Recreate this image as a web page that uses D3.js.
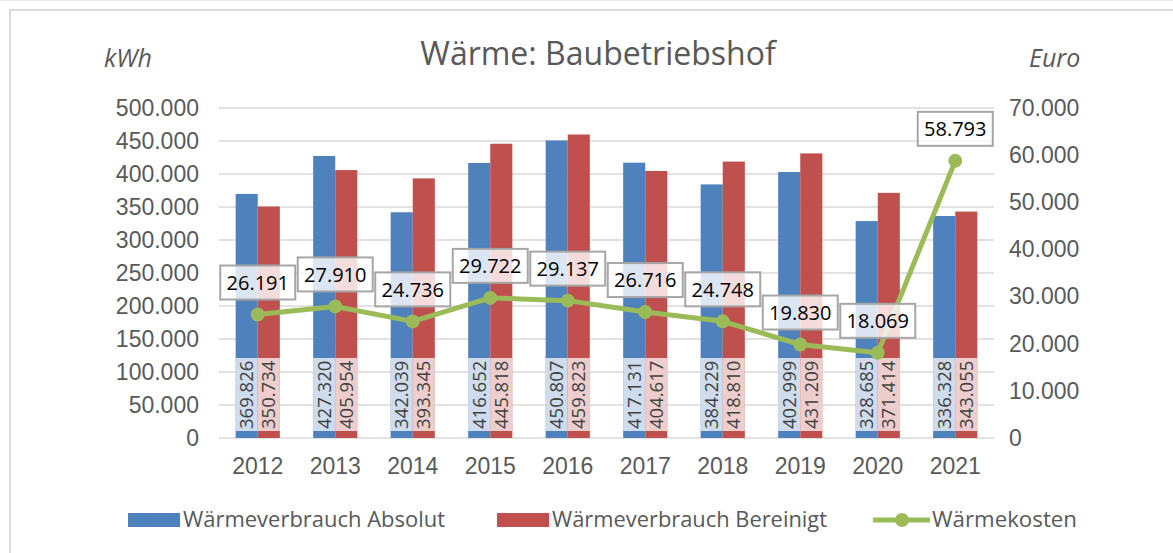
<!DOCTYPE html>
<html>
<head>
<meta charset="utf-8">
<script src="https://cdn.jsdelivr.net/npm/d3@7"></script>
<style>
    body { margin: 0; background: #fff; }
    svg { display: block; font-family: "Open Sans", "Noto Sans", sans-serif; }
</style>
</head>
<body>
<div id="chart"></div>
<script>
const years = ["2012", "2013", "2014", "2015", "2016", "2017", "2018", "2019", "2020", "2021"];
const verbrauchAbsolut = [369826, 427320, 342039, 416652, 450807, 417131, 384229, 402999, 328685, 336328];
const verbrauchBereinigt = [350734, 405954, 393345, 445818, 459823, 404617, 418810, 431209, 371414, 343055];
const waermekosten = [26191, 27910, 24736, 29722, 29137, 26716, 24748, 19830, 18069, 58793];
const leftTicks = [0, 50000, 100000, 150000, 200000, 250000, 300000, 350000, 400000, 450000, 500000];
const rightTicks = [0, 10000, 20000, 30000, 40000, 50000, 60000, 70000];
const seriesNames = ["Wärmeverbrauch Absolut", "Wärmeverbrauch Bereinigt", "Wärmekosten"];

const blue = "#4F81BD", red = "#C0504D", green = "#9BBB59";
const textGray = "#595959";

const width = 1173, height = 553;
const plot = { left: 219, right: 994, top: 108, bottom: 438 };

// German thousands separator
const fmt = d => d3.format(",")(d).replace(/,/g, ".");

const svg = d3.select("#chart")
    .append("svg")
    .attr("width", width)
    .attr("height", height);

// frame
svg.append("line")
    .attr("x1", 0).attr("x2", width).attr("y1", 0.5).attr("y2", 0.5)
    .attr("stroke", "#e6e6e6").attr("stroke-width", 1);
svg.append("rect")
    .attr("x", 10).attr("y", 10)
    .attr("width", width + 20).attr("height", height + 20)
    .attr("fill", "none").attr("stroke", "#d9d9d9").attr("stroke-width", 2);

const x = d3.scaleBand().domain(years).range([plot.left, plot.right]).paddingInner(0.43).paddingOuter(0.215);
const xSub = d3.scaleBand().domain([0, 1]).range([0, x.bandwidth()]);
const yLeft = d3.scaleLinear().domain([0, 500000]).range([plot.bottom, plot.top]);
const yRight = d3.scaleLinear().domain([0, 70000]).range([plot.bottom, plot.top]);

// gridlines
svg.append("g")
    .selectAll("line")
    .data(leftTicks)
    .join("line")
    .attr("x1", plot.left).attr("x2", plot.right)
    .attr("y1", d => yLeft(d)).attr("y2", d => yLeft(d))
    .attr("stroke", "#d9d9d9").attr("stroke-width", 1.5);

// left axis
const leftAxis = svg.append("g")
    .attr("transform", `translate(${plot.left - 20},0)`)
    .call(d3.axisLeft(yLeft).tickValues(leftTicks).tickFormat(fmt).tickSize(0).tickPadding(0));
leftAxis.select(".domain").remove();
leftAxis.selectAll("text").attr("fill", textGray).style("font-size", "23px").attr("font-family", null);

// right axis
const rightAxis = svg.append("g")
    .attr("transform", `translate(${plot.right + 15},0)`)
    .call(d3.axisRight(yRight).tickValues(rightTicks).tickFormat(fmt).tickSize(0).tickPadding(0));
rightAxis.select(".domain").remove();
rightAxis.selectAll("text").attr("fill", textGray).style("font-size", "23px").attr("font-family", null);

// x axis
const xAxis = svg.append("g")
    .attr("transform", `translate(0,${plot.bottom + 20})`)
    .call(d3.axisBottom(x).tickSize(0).tickPadding(0));
xAxis.select(".domain").remove();
xAxis.selectAll("text").attr("fill", textGray).style("font-size", "23px").attr("font-family", null);

// bars
const bars = [verbrauchAbsolut, verbrauchBereinigt];
const barColors = [blue, red];
bars.forEach((values, s) => {
    const g = svg.append("g");
    g.selectAll("rect")
        .data(values)
        .join("rect")
        .attr("x", (d, i) => x(years[i]) + xSub(s))
        .attr("y", d => yLeft(d))
        .attr("width", xSub.bandwidth())
        .attr("height", d => plot.bottom - yLeft(d))
        .attr("fill", barColors[s]);

    // rotated labels at the base of the bars
    const lbl = g.selectAll("g.lbl")
        .data(values)
        .join("g")
        .attr("class", "lbl")
        .attr("transform", (d, i) => `translate(${x(years[i]) + xSub(s) + xSub.bandwidth() / 2},${plot.bottom - 8}) rotate(-90)`);
    lbl.append("rect")
        .attr("x", -1).attr("y", -xSub.bandwidth() / 2)
        .attr("width", 73).attr("height", xSub.bandwidth())
        .attr("fill", "#fff").attr("fill-opacity", 0.72);
    lbl.append("text")
        .attr("x", 1).attr("dy", "0.35em")
        .attr("fill", "#404040")
        .style("font-size", "18.5px")
        .text(d => fmt(d));
});

// line
const cx = (d, i) => x(years[i]) + x.bandwidth() / 2;
const line = d3.line().x(cx).y(d => yRight(d));
svg.append("path")
    .datum(waermekosten)
    .attr("d", line)
    .attr("fill", "none")
    .attr("stroke", green)
    .attr("stroke-width", 5)
    .attr("stroke-linejoin", "round");
svg.append("g")
    .selectAll("circle")
    .data(waermekosten)
    .join("circle")
    .attr("cx", cx)
    .attr("cy", d => yRight(d))
    .attr("r", 7)
    .attr("fill", green);

// line labels
const boxW = 75, boxH = 34;
const lineLbl = svg.append("g")
    .selectAll("g")
    .data(waermekosten)
    .join("g")
    .attr("transform", (d, i) => `translate(${cx(d, i)},${yRight(d) - 15 - boxH / 2})`);
lineLbl.append("rect")
    .attr("x", -boxW / 2).attr("y", -boxH / 2)
    .attr("width", boxW).attr("height", boxH)
    .attr("fill", "#fff").attr("fill-opacity", 0.8)
    .attr("stroke", "#a6a6a6").attr("stroke-width", 2);
lineLbl.append("text")
    .attr("text-anchor", "middle")
    .attr("dy", "0.36em")
    .attr("fill", "#000")
    .style("font-size", "20px")
    .text(d => fmt(d));

// title and axis titles
svg.append("text")
    .attr("x", 598).attr("y", 65)
    .attr("text-anchor", "middle")
    .attr("fill", textGray)
    .style("font-size", "32px")
    .text("Wärme: Baubetriebshof");
svg.append("text")
    .attr("x", 104).attr("y", 67)
    .attr("fill", textGray)
    .style("font-size", "25px").style("font-style", "italic")
    .text("kWh");
svg.append("text")
    .attr("x", 1029).attr("y", 67)
    .attr("fill", textGray)
    .style("font-size", "25px").style("font-style", "italic")
    .text("Euro");

// legend
const legend = svg.append("g").attr("transform", "translate(0,520)");
const legendItems = [
    { name: seriesNames[0], color: blue, x: 128, type: "bar", tw: 262 },
    { name: seriesNames[1], color: red, x: 497, type: "bar", tw: 275 },
    { name: seriesNames[2], color: green, x: 873, type: "line", tw: 145 }
];
legendItems.forEach(item => {
    if (item.type === "bar") {
        legend.append("rect")
            .attr("x", item.x).attr("y", -7)
            .attr("width", 52).attr("height", 14)
            .attr("fill", item.color);
    } else {
        legend.append("line")
            .attr("x1", item.x).attr("x2", item.x + 57)
            .attr("stroke", item.color).attr("stroke-width", 5);
        legend.append("circle")
            .attr("cx", item.x + 29).attr("r", 7)
            .attr("fill", item.color);
    }
    legend.append("text")
        .attr("x", item.x + (item.type === "bar" ? 55 : 59))
        .attr("dy", "0.35em")
        .attr("fill", textGray)
        .style("font-size", "21px")
        .attr("textLength", item.tw)
        .attr("lengthAdjust", "spacingAndGlyphs")
        .text(item.name);
});
</script>
</body>
</html>
